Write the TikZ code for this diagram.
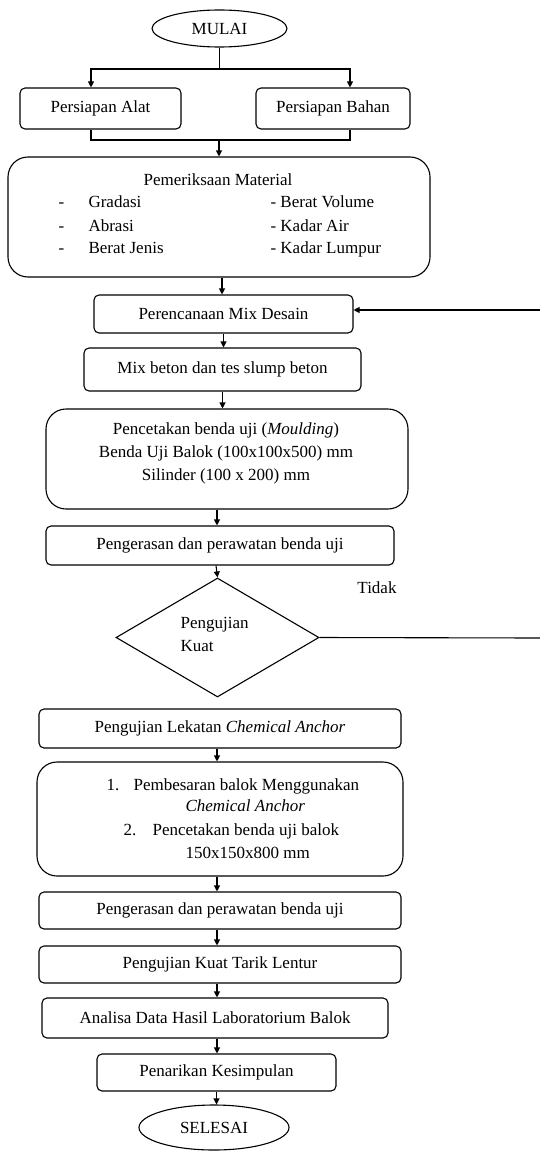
\documentclass[tikz,border=0pt]{standalone}
\usepackage{fontspec}
\setmainfont{Liberation Serif}
\usetikzlibrary{shapes.geometric,arrows.meta}
\begin{document}
\begin{tikzpicture}[x=1pt,y=-1pt, line width=1.1pt,
  font=\fontsize{17}{23}\selectfont,
  box/.style={draw, rounded corners=5pt, inner sep=0pt},
  bigbox/.style={draw, rounded corners=20pt, inner sep=0pt},
  term/.style={draw, ellipse, inner sep=0pt},
  arr/.style={-{Triangle[length=6pt,width=6pt]}},
  txt/.style={anchor=base west, inner sep=0pt}]
\fill[white] (0,0) rectangle (540,1153);
\useasboundingbox (0,0) rectangle (540,1153);

% nodes
\node[term, minimum width=135pt, minimum height=37pt] (mulai) at (219.5,28.5) {MULAI};
\node[box, minimum width=161pt, minimum height=41pt] (alat) at (100.5,108.5) {Persiapan Alat};
\node[box, minimum width=154pt, minimum height=41pt] (bahan) at (333,108.5) {Persiapan Bahan};
\node[bigbox, minimum width=422pt, minimum height=120pt] (mat) at (219,217) {};
\node[inner sep=0pt] (matt) at (218,180) {Pemeriksaan Material};
\node[txt] (m1a) at (58,207) {-};
\node[txt] (m1b) at (88,207) {Gradasi};
\node[txt] (m2a) at (58,231) {-};
\node[txt] (m2b) at (88,231) {Abrasi};
\node[txt] (m3a) at (58,253) {-};
\node[txt] (m3b) at (88,253) {Berat Jenis};
\node[txt] (m4) at (270,207) {- Berat Volume};
\node[txt] (m5) at (270,231) {- Kadar Air};
\node[txt] (m6) at (270,253) {- Kadar Lumpur};

\node[box, minimum width=259pt, minimum height=38pt] (mix) at (223.5,314) {Perencanaan Mix Desain};
\node[box, minimum width=277pt, minimum height=43pt] (slump) at (222.5,369.5) {Mix beton dan tes slump beton};
\node[bigbox, minimum width=362pt, minimum height=100pt] (mould) at (227,459) {};
\node[inner sep=0pt, align=center] (mouldt) at (226,453) {Pencetakan benda uji (\textit{Moulding})\\Benda Uji Balok (100x100x500) mm\\Silinder (100 x 200) mm};
\node[box, minimum width=348pt, minimum height=39pt] (keras1) at (220,545.5) {Pengerasan dan perawatan benda uji};
\node[draw, diamond, inner sep=0pt, minimum width=203pt, minimum height=119pt] (dia) at (217.5,637.5) {};
\node[txt] (d1) at (180,628) {Pengujian};
\node[txt] (d2) at (180,651) {Kuat};
\node[inner sep=0pt] (tidak) at (377,588) {Tidak};

\node[box, minimum width=362pt, minimum height=39pt] (lek) at (220,728.5) {Pengujian Lekatan \textit{Chemical Anchor}};
\node[bigbox, minimum width=366pt, minimum height=114pt] (chem) at (220,819) {};
\node[txt] (c1) at (106,790) {1.};
\node[txt] (c1b) at (133,790) {Pembesaran balok Menggunakan};
\node[txt] (c1c) at (185,811) {\textit{Chemical Anchor}};
\node[txt] (c2) at (123,835) {2.};
\node[txt] (c2b) at (152,835) {Pencetakan benda uji balok};
\node[txt] (c2c) at (185,858) {150x150x800 mm};

\node[box, minimum width=362pt, minimum height=37pt] (keras2) at (220,910.5) {Pengerasan dan perawatan benda uji};
\node[box, minimum width=362pt, minimum height=37pt] (lentur) at (220,964.5) {Pengujian Kuat Tarik Lentur};
\node[box, minimum width=346pt, minimum height=40pt] (analisa) at (215,1018) {Analisa Data Hasil Laboratorium Balok};
\node[box, minimum width=239pt, minimum height=37pt] (tarik) at (216.5,1072.5) {Penarikan Kesimpulan};
\node[term, minimum width=150pt, minimum height=45pt] (selesai) at (214,1127.5) {SELESAI};

% connectors
\coordinate (j1) at (219.5,69);
\coordinate (j2) at (219,140);
\coordinate (fb) at (540,310);
\coordinate (tk) at (540,638);
\draw (mulai.south) -- (j1);
\draw[arr] (j1) -| ([xshift=-9.5pt]alat.north);
\draw[arr] (j1) -| ([xshift=17pt]bahan.north);
\draw ([xshift=-9.5pt]alat.south) |- (j2);
\draw ([xshift=17pt]bahan.south) |- (j2);
\draw[arr] (j2) -- (mat.north);
\draw[arr] ([xshift=3pt]mat.south) -- ([xshift=3pt]mat.south |- mix.north);
\draw[arr] (fb) -- (mix.east |- fb);
\draw[arr] (mix.south) -- (mix.south |- slump.north);
\draw[arr] (slump.south) -- (slump.south |- mould.north);
\draw[arr] ([xshift=-10pt]mould.south) -- ([xshift=-10pt]mould.south |- keras1.north);
\draw[arr] ([xshift=-4pt]keras1.south) -- (dia.north);
\draw (dia.east) -- (tk);
\draw[arr] ([xshift=-3pt]lek.south) -- ([xshift=-3pt]lek.south |- chem.north);
\draw[arr] ([xshift=-3pt]chem.south) -- ([xshift=-3pt]chem.south |- keras2.north);
\draw[arr] ([xshift=-3pt]keras2.south) -- ([xshift=-3pt]keras2.south |- lentur.north);
\draw[arr] ([xshift=-3pt]lentur.south) -- ([xshift=-3pt]lentur.south |- analisa.north);
\draw[arr] ([xshift=2pt]analisa.south) -- ([xshift=2pt]analisa.south |- tarik.north);
\draw[arr] (tarik.south) -- (tarik.south |- selesai.north);
\end{tikzpicture}
\end{document}
